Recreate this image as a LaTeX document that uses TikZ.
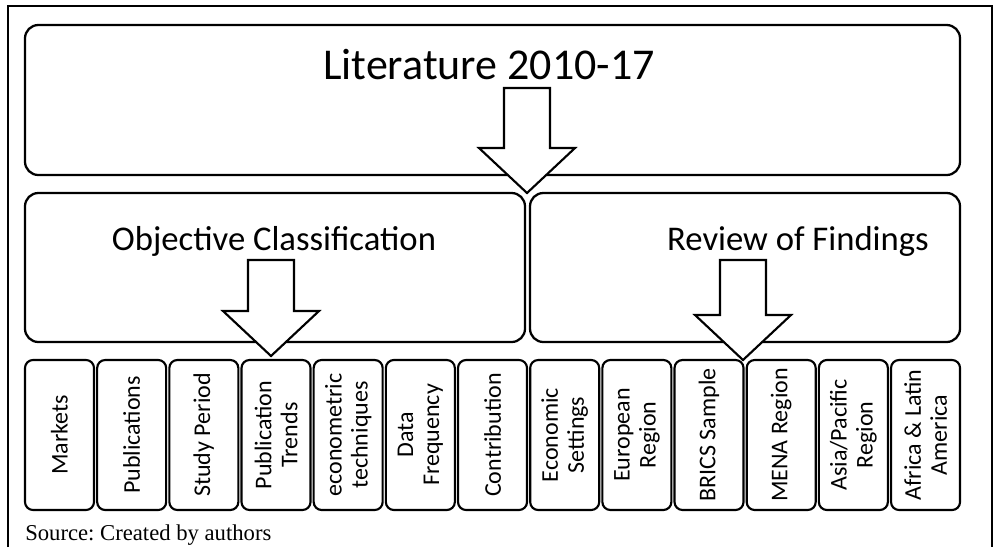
\documentclass[tikz,border=0pt]{standalone}
\usepackage{fontspec}
\setmainfont{Carlito}
\newfontfamily\srcfont{Liberation Serif}
\usetikzlibrary{calc}
\frenchspacing

\tikzset{
  panel/.style={draw, line width=1.7pt, rounded corners=10pt, inner sep=0pt},
  topic/.style={draw, line width=1.6pt, rounded corners=6pt, inner sep=0pt,
    minimum width=69*0.75pt, minimum height=150*0.75pt},
  topictext/.style={rotate=90, align=center, font=\fontsize{18}{19.5}\selectfont},
  fatarrow/.style={draw, line width=1.6pt, fill=white, line join=miter},
}

% block arrow pointing down: #1 = tip, #2 = total length
\newcommand{\fatarrow}[2]{%
  \draw[fatarrow] (#1) -- ++(48,-45) -- ++(-25,0) -- ++(0,{45-#2})
    -- ++(-46,0) -- ++(0,{#2-45}) -- ++(-25,0) -- cycle;}

\begin{document}
\begin{tikzpicture}[x=0.75pt, y=-0.75pt]
    \useasboundingbox (0,0) rectangle (997,547);

    % 1. Outer frame
    \draw[line width=1.5pt] (8,547) -- (8,6) -- (992,6) -- (992,547);

    % 2. The three big panels
    \node[panel, minimum width=935*0.75pt, minimum height=150*0.75pt] (lit) at (492.5,100) {};
    \node[panel, minimum width=500*0.75pt, minimum height=149*0.75pt] (obj) at (275,267.5) {};
    \node[panel, minimum width=430*0.75pt, minimum height=149*0.75pt] (rev) at (745,267.5) {};

    % 3. The thirteen topic boxes
    \foreach \lbl [count=\i from 0] in {Markets, Publications, Study Period,
        {Publication\\Trends}, {econometric\\techniques}, {Data\\Frequency},
        Contribution, {Economic\\Settings}, {European\\Region}, BRICS Sample,
        MENA Region, {Asia/Pacific\\Region}, {Africa \& Latin\\America}} {
      \node[topic] (t\i) at ({59.5+72.17*\i},435) {};
      \node[topictext] at (t\i) {\lbl};
    }

    % 4. Tips of the block arrows
    \coordinate (tipA) at (527,193);
    \coordinate (tipB) at (271,356);
    \coordinate (tipC) at (743,360);

    \fatarrow{tipA}{105}
    \fatarrow{tipB}{96}
    \fatarrow{tipC}{100}

    % 5. Panel titles
    \node[anchor=base, font=\fontsize{33}{38}\selectfont] (littxt) at (489,79) {Literature 2010-17};
    \node[anchor=base, font=\fontsize{26}{30}\selectfont] (objtxt) at (274,250) {Objective Classification};
    \node[anchor=base, font=\fontsize{26}{30}\selectfont] (revtxt) at (798,250) {Review of Findings};

    % 6. Source line
    \node[anchor=base west, inner sep=0pt, font=\srcfont\fontsize{17}{20}\selectfont] (src) at (25,540) {Source: Created by authors};

\end{tikzpicture}
\end{document}
